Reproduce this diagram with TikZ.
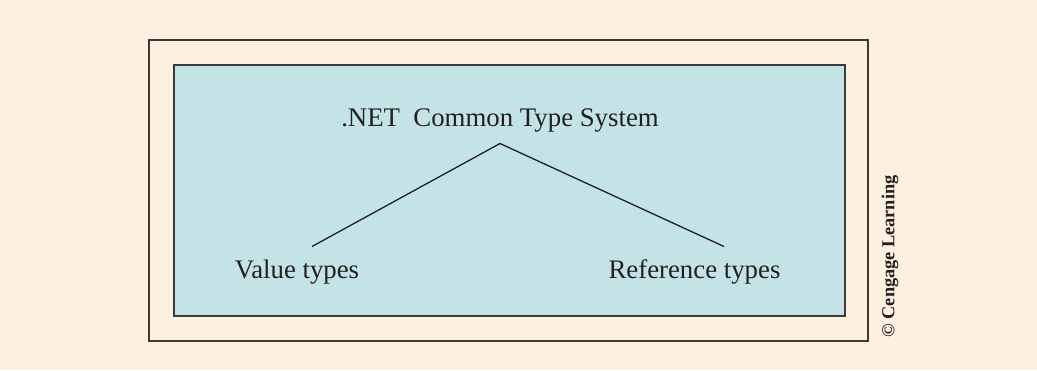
\documentclass[tikz,border=0pt]{standalone}
\usepackage{fontspec}
\setmainfont{Liberation Serif}
\usetikzlibrary{positioning}
\definecolor{paper}{HTML}{FDF0E1}
\definecolor{panel}{HTML}{C4E3E6}
\definecolor{rim}{HTML}{3A3A3A}
\definecolor{ink}{HTML}{231F20}

\begin{document}
\begin{tikzpicture}[x=1pt, y=-1pt,
						frame/.style={draw=rim, line width=2pt},
						label/.style={inner sep=0pt, anchor=base, text=ink, font=\fontsize{26.8}{30}\selectfont},
						credit/.style={inner sep=0pt, rotate=90, text=ink, font=\bfseries\fontsize{18.3}{20}\selectfont},
						edge/.style={draw=ink, line width=1.3pt}
					]
					\fill[paper] (0,0) rectangle (1037,370);
					\useasboundingbox (0,0) rectangle (1037,370);
					\draw[frame] (149,39.5) rectangle (868,340.5);
					\draw[frame, fill=panel] (174,65) rectangle (845,315.5);
					\node[label] (cts) at (500,126) {.NET\ \ Common Type System};
					\node[label] (value) at (297,278) {Value types};
					\node[label] (ref) at (694.5,278) {Reference types};
					\node[credit] (cengage) at (890,256.5) {\textcopyright\ Cengage Learning};
					\coordinate (fork) at (500,143.5);
					\coordinate (vend) at (312,246.5);
					\coordinate (rend) at (724,246.5);
					\draw[edge] (vend) -- (fork) -- (rend);
					\end{tikzpicture}
\end{document}
